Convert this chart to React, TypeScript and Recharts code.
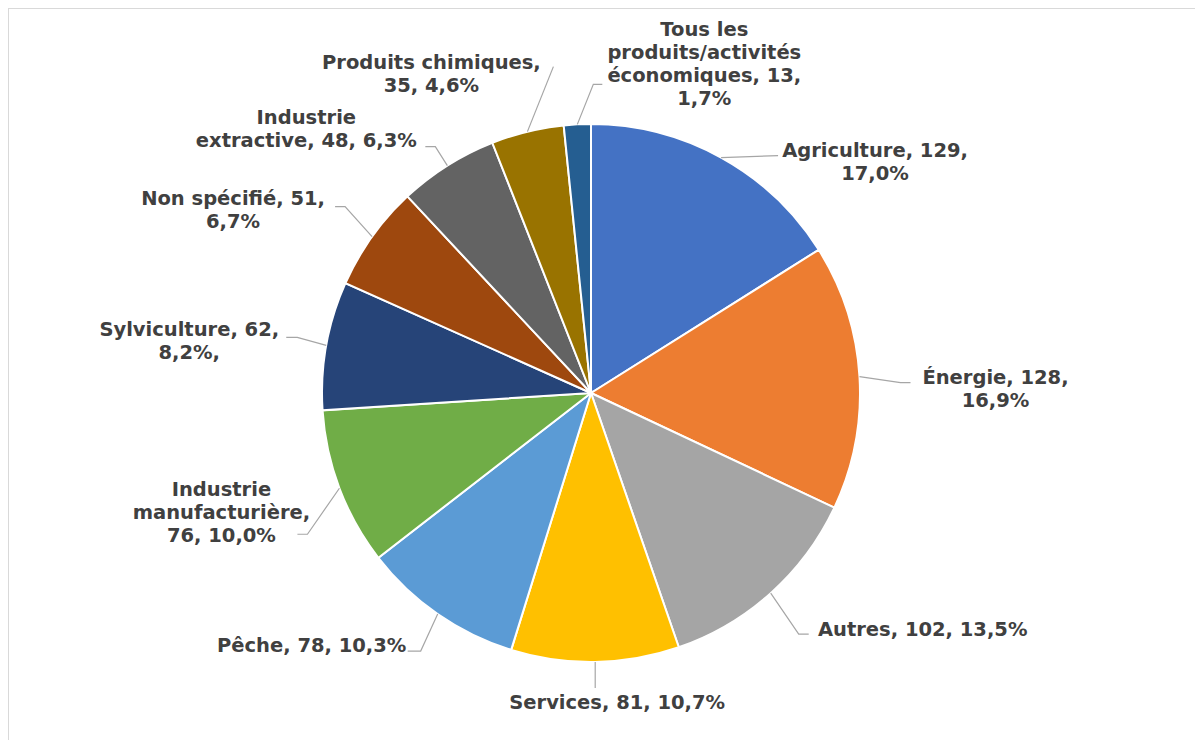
import { PieChart, Pie, Cell } from 'recharts';

const categories = [
  'Agriculture', 'Énergie', 'Autres', 'Services', 'Pêche',
  'Industrie manufacturière', 'Sylviculture', 'Non spécifié',
  'Industrie extractive', 'Produits chimiques',
  'Tous les produits/activités économiques',
];
const counts = [129, 128, 102, 81, 78, 76, 62, 51, 48, 35, 13];
const labelLines = [
  ['Agriculture, 129,', '17,0%'],
  ['Énergie, 128,', '16,9%'],
  ['Autres, 102, 13,5%'],
  ['Services, 81, 10,7%'],
  ['Pêche, 78, 10,3%'],
  ['Industrie', 'manufacturière,', '76, 10,0%'],
  ['Sylviculture, 62,', '8,2%,'],
  ['Non spécifié, 51,', '6,7%'],
  ['Industrie', 'extractive, 48, 6,3%'],
  ['Produits chimiques,', '35, 4,6%'],
  ['Tous les', 'produits/activités', 'économiques, 13,', '1,7%'],
];

const COLORS = [
  '#4472C4', '#ED7D31', '#A5A5A5', '#FFC000', '#5B9BD5', '#70AD47',
  '#264478', '#9E480E', '#636363', '#997300', '#255E91',
];

// leader end offset from slice edge, horizontal elbow, text block centre from leader end
const labelLayout = [
  { dx: 57, dy: -2, elbow: 0, tx: 97, ty: 6 },
  { dx: 51, dy: 6, elbow: 10, tx: 85, ty: 6 },
  { dx: 38, dy: 41, elbow: 10, tx: 114, ty: -5 },
  { dx: 0, dy: 26, elbow: 0, tx: 22, ty: 15 },
  { dx: -30, dy: 37, elbow: 13, tx: -96, ty: -6 },
  { dx: -42, dy: 46, elbow: 10, tx: -76, ty: -22 },
  { dx: -40, dy: -8, elbow: 11, tx: -97, ty: 4 },
  { dx: -37, dy: -30, elbow: 10, tx: -102, ty: 3 },
  { dx: -22, dy: -19, elbow: 10, tx: -119, ty: -18 },
  { dx: 26, dy: -65, elbow: 0, tx: -122, ty: 7 },
  { dx: 25, dy: -40, elbow: 9, tx: 102, ty: -20 },
];

const data = categories.map((name, i) => ({ name, value: counts[i] }));

const RADIAN = Math.PI / 180;
const LINE_H = 23;

function renderLabel(props: any) {
  const { cx, cy, midAngle, outerRadius, index } = props;
  const lay = labelLayout[index];
  const ex = cx + outerRadius * Math.cos(-midAngle * RADIAN);
  const ey = cy + outerRadius * Math.sin(-midAngle * RADIAN);
  const px = ex + lay.dx;
  const py = ey + lay.dy;
  const side = lay.dx >= 0 ? 1 : -1;
  const bx = px - side * lay.elbow;
  const lines = labelLines[index];
  const bx0 = px + lay.tx;
  const by0 = py + lay.ty - ((lines.length - 1) * LINE_H) / 2;
  return (
    <g key={`lbl-${index}`}>
      <polyline
        points={`${ex},${ey} ${bx},${py} ${px},${py}`}
        fill="none"
        stroke="#a6a6a6"
        strokeWidth={1.2}
      />
      <text
        textAnchor="middle"
        fill="#404040"
        fontFamily="'DejaVu Sans', Verdana, sans-serif"
        fontWeight="bold"
        fontSize={19.5}
      >
        {lines.map((ln, i) => (
          <tspan key={i} x={bx0} y={by0 + i * LINE_H} dominantBaseline="central">
            {ln}
          </tspan>
        ))}
      </text>
    </g>
  );
}

export default function App() {
  return (
    <div style={{ width: 1198, height: 738, border: '1px solid #d9d9d9', background: '#fff' }}>
      <PieChart width={1198} height={738} margin={{ top: 0, right: 0, bottom: 0, left: 0 }}>
        <Pie
          data={data}
          dataKey="value"
          nameKey="name"
          cx={582}
          cy={384}
          outerRadius={269}
          startAngle={90}
          endAngle={-270}
          stroke="#fff"
          strokeWidth={2}
          label={renderLabel}
          labelLine={false}
          isAnimationActive={false}
        >
          {data.map((d, i) => (
            <Cell key={d.name} fill={COLORS[i]} />
          ))}
        </Pie>
      </PieChart>
    </div>
  );
}
